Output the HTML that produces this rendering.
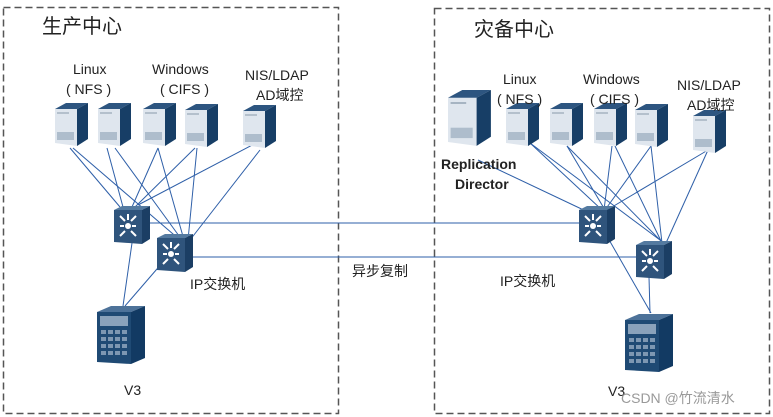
<!DOCTYPE html>
<html><head><meta charset="utf-8"><style>
body{margin:0;background:#fff;}
svg{display:block;font-family:"Liberation Sans","Noto Sans CJK SC",sans-serif;}
</style></head><body>
<svg width="773" height="417" viewBox="0 0 773 417">
<defs>
<g id="srv">
<polygon points="0,6 22,6 22,43 0,40" fill="#dfe6ee"/>
<polygon points="0,6 22,6 33,0 11,0" fill="#2d5580"/>
<polygon points="22,6 33,0 33,36 22,43" fill="#173e66"/>
<rect x="2" y="29" width="17" height="8" fill="#aebdcc"/>
<line x1="2" y1="10" x2="14" y2="10" stroke="#8899aa" stroke-width="1"/>
</g>
<g id="sw">
<polygon points="0,4 28,4 28,38 0,36" fill="#2f547c"/>
<polygon points="0,4 28,4 36,0 8,0" fill="#547aa0"/>
<polygon points="28,4 36,0 36,33 28,38" fill="#1b3e64"/>
<g stroke="#fff" stroke-width="2" fill="none">
<path d="M6,10 L11,15 M14,8 L14,14 M22,10 L17,15 M6,30 L11,25 M22,30 L17,25 M6,20 L10,20 M22,20 L18,20"/>
</g>
<circle cx="14" cy="20" r="3" fill="#fff"/>
</g>
<g id="v3">
<polygon points="0,6 34,6 34,58 0,56" fill="#1f4a74"/>
<polygon points="0,6 34,6 48,0 14,0" fill="#4d7299"/>
<polygon points="34,6 48,0 48,52 34,58" fill="#123a63"/>
<rect x="3" y="10" width="28" height="10" fill="#8aa2bb"/>
<g fill="#7d97b2"><rect x="4" y="24" width="5" height="4"/><rect x="11" y="24" width="5" height="4"/><rect x="18" y="24" width="5" height="4"/><rect x="25" y="24" width="5" height="4"/>
<rect x="4" y="31" width="5" height="4"/><rect x="11" y="31" width="5" height="4"/><rect x="18" y="31" width="5" height="4"/><rect x="25" y="31" width="5" height="4"/>
<rect x="4" y="38" width="5" height="4"/><rect x="11" y="38" width="5" height="4"/><rect x="18" y="38" width="5" height="4"/><rect x="25" y="38" width="5" height="4"/>
<rect x="4" y="45" width="5" height="4"/><rect x="11" y="45" width="5" height="4"/><rect x="18" y="45" width="5" height="4"/><rect x="25" y="45" width="5" height="4"/></g>
</g>
</defs>
<rect x="3.5" y="7.5" width="335" height="406" fill="none" stroke="#555" stroke-width="1.5" stroke-dasharray="7,4"/>
<rect x="434.5" y="8.5" width="335" height="405" fill="none" stroke="#555" stroke-width="1.5" stroke-dasharray="7,4"/>
<g stroke="#2e5fa8" stroke-width="1" fill="none">
<!-- left -->
<line x1="70" y1="148" x2="120" y2="207"/><line x1="73" y1="148" x2="180" y2="240"/>
<line x1="107" y1="148" x2="123" y2="207"/><line x1="115" y1="148" x2="182" y2="240"/>
<line x1="158" y1="148" x2="132" y2="207"/><line x1="158" y1="148" x2="184" y2="240"/>
<line x1="195" y1="148" x2="135" y2="207"/><line x1="197" y1="148" x2="188" y2="240"/>
<line x1="258" y1="142" x2="138" y2="205"/><line x1="260" y1="150" x2="190" y2="240"/>
<line x1="132" y1="243" x2="123" y2="306"/><line x1="163" y1="262" x2="125" y2="306"/>
<line x1="150" y1="223" x2="579" y2="223"/><line x1="192" y1="257" x2="636" y2="257"/>
<!-- right -->
<line x1="478" y1="160" x2="590" y2="213"/>
<line x1="530" y1="143" x2="602" y2="210"/><line x1="530" y1="143" x2="664" y2="243"/>
<line x1="567" y1="146" x2="605" y2="210"/><line x1="567" y1="146" x2="663" y2="243"/>
<line x1="612" y1="146" x2="604" y2="210"/><line x1="615" y1="146" x2="662" y2="243"/>
<line x1="651" y1="146" x2="605" y2="210"/><line x1="651" y1="146" x2="662" y2="243"/>
<line x1="708" y1="150" x2="607" y2="210"/><line x1="708" y1="150" x2="666" y2="243"/>
<line x1="608" y1="238" x2="651" y2="313"/><line x1="649" y1="277" x2="650" y2="313"/>
</g>
<use href="#srv" x="55" y="103"/><use href="#srv" x="98" y="103"/><use href="#srv" x="143" y="103"/><use href="#srv" x="185" y="104"/><use href="#srv" x="243" y="105"/>
<use href="#sw" x="114" y="206"/><use href="#sw" x="157" y="234"/>
<use href="#v3" x="97" y="306"/>
<g transform="translate(448,90) scale(1.3)"><use href="#srv"/></g>
<use href="#srv" x="506" y="103"/><use href="#srv" x="550" y="103"/><use href="#srv" x="594" y="103"/><use href="#srv" x="635" y="104"/><use href="#srv" x="693" y="110"/>
<use href="#sw" x="579" y="206"/><use href="#sw" x="636" y="241"/>
<use href="#v3" x="625" y="314"/>
<g fill="#222" font-size="14">
<text x="42" y="33" font-size="20">生产中心</text>
<text x="474" y="36" font-size="20">灾备中心</text>
<text x="73" y="74">Linux</text><text x="66" y="94">( NFS )</text>
<text x="152" y="74">Windows</text><text x="160" y="94">( CIFS )</text>
<text x="245" y="80">NIS/LDAP</text><text x="256" y="100">AD域控</text>
<text x="503" y="84">Linux</text><text x="497" y="104">( NFS )</text>
<text x="583" y="84">Windows</text><text x="590" y="104">( CIFS )</text>
<text x="677" y="90">NIS/LDAP</text><text x="687" y="110">AD域控</text>
<text x="441" y="169" font-weight="bold">Replication</text>
<text x="455" y="189" font-weight="bold">Director</text>
<text x="190" y="289">IP交换机</text>
<text x="500" y="286">IP交换机</text>
<text x="352" y="276">异步复制</text>
<text x="124" y="395">V3</text>
<text x="608" y="396">V3</text>
</g>
<text x="621" y="403" font-size="14" fill="#999">CSDN @竹流清水</text>
</svg>
</body></html>
